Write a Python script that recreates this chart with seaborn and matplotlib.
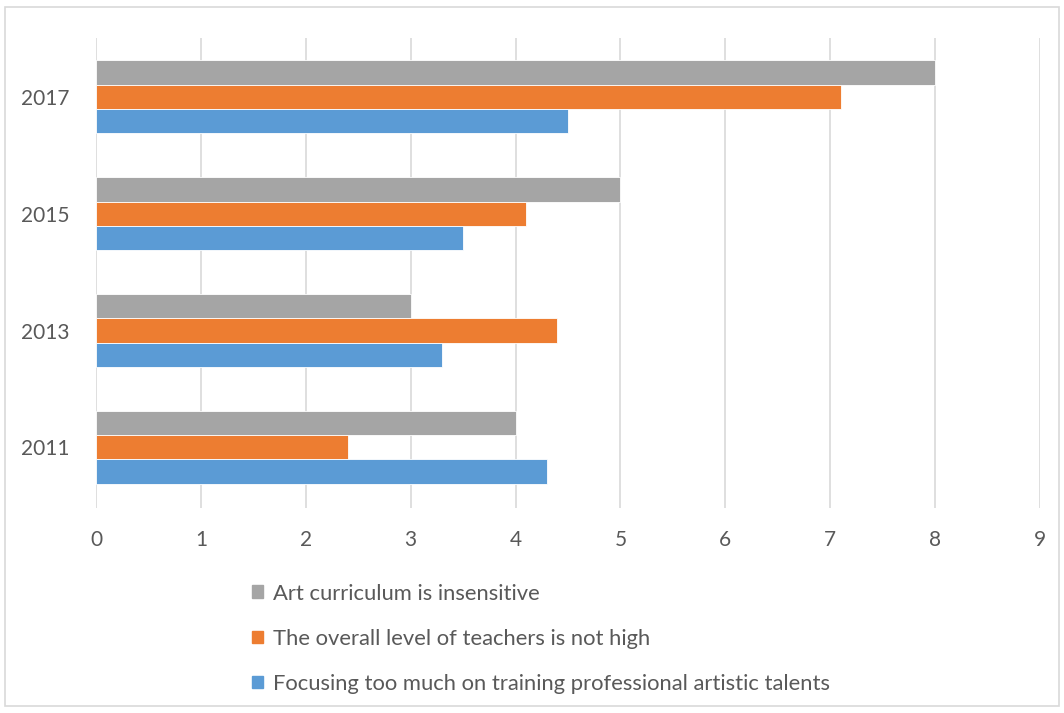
import matplotlib
matplotlib.use("Agg")
import matplotlib.pyplot as plt
import matplotlib.patches as mpatches
import seaborn as sns
import pandas as pd

years = ["2017", "2015", "2013", "2011"]
series = ["Art curriculum is insensitive",
          "The overall level of teachers is not high",
          "Focusing too much on training professional artistic talents"]
art = [8, 5, 3, 4]
teachers = [7.1, 4.1, 4.4, 2.4]
focusing = [4.5, 3.5, 3.3, 4.3]
colors = ["#A5A5A5", "#ED7D31", "#5B9BD5"]

df = pd.DataFrame({
    "year": years * 3,
    "series": [series[0]] * 4 + [series[1]] * 4 + [series[2]] * 4,
    "value": art + teachers + focusing,
})

sns.set_style("white")
plt.rcParams["font.family"] = ["Lato", "DejaVu Sans"]

fig = plt.figure(figsize=(10.64, 7.13), dpi=100)
ax = fig.add_axes([0.0902, 0.2875, 0.8872, 0.6592])

sns.barplot(data=df, x="value", y="year", hue="series", order=years,
            hue_order=series, palette=colors, width=0.625, orient="h",
            saturation=1, ax=ax, legend=False, edgecolor="white", linewidth=0.6)

ax.set_xlim(0, 9)
ax.set_ylim(3.52, -0.505)
ax.set_xticks(range(10))
ax.grid(axis="x", color="#D9D9D9", linewidth=1.2)
ax.set_axisbelow(True)
for s in ax.spines.values():
    s.set_visible(False)
ax.set_xlabel("")
ax.set_ylabel("")
ax.tick_params(axis="both", length=0, labelsize=15, labelcolor="#595959")
ax.tick_params(axis="x", pad=16)
ax.tick_params(axis="y", pad=19)

handles = [mpatches.Patch(color=c, label=l) for c, l in zip(colors, series)]
fig.legend(handles=handles, loc="upper left", bbox_to_anchor=(0.2265, 0.197),
           frameon=False, fontsize=15.8, labelcolor="#595959", handlelength=0.5,
           handleheight=0.5, handletextpad=0.45, labelspacing=1.15, borderpad=0)

fig.add_artist(mpatches.Rectangle((0.005, 0.01), 0.99, 0.98, transform=fig.transFigure,
                                  fill=False, edgecolor="#D9D9D9", linewidth=1.2))

fig.savefig("out.png", dpi=100)
